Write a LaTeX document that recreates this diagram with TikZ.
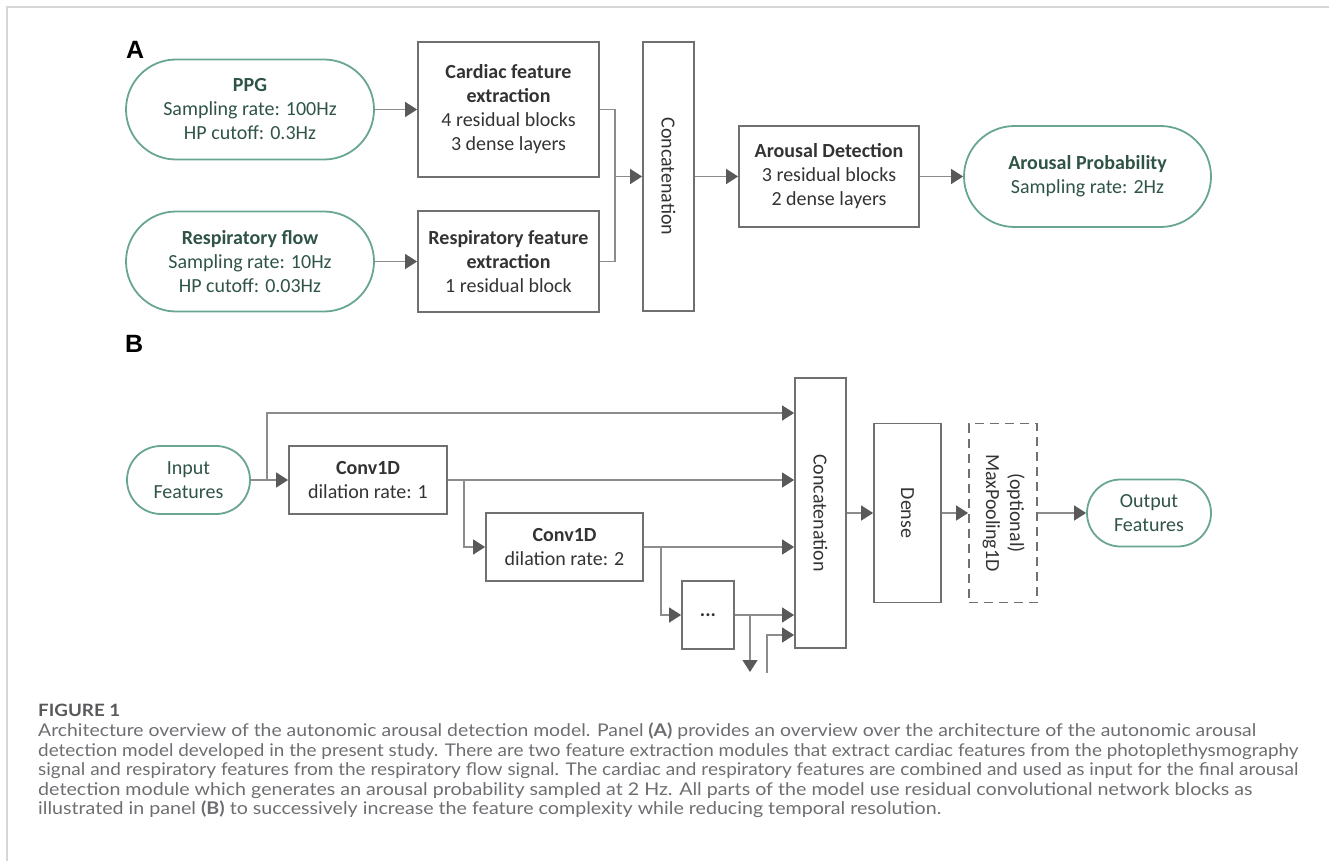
\documentclass[tikz,border=0pt]{standalone}
\usepackage{fontspec}
\usepackage{graphicx}
\setmainfont{Carlito}
\newfontfamily\capfont{Lato}
\newfontfamily\lblfont{Liberation Sans}
\usetikzlibrary{arrows.meta,shapes.misc}
\definecolor{boxgray}{HTML}{707070}
\definecolor{linegray}{HTML}{8C8C8C}
\definecolor{tipgray}{HTML}{595959}
\definecolor{pillgreen}{HTML}{68A593}
\definecolor{pilltext}{HTML}{2F5446}
\definecolor{boxtext}{HTML}{333333}
\definecolor{capgray}{HTML}{6D6E71}
\definecolor{figgray}{HTML}{58595B}
\definecolor{framegray}{HTML}{D6D6D6}
\tikzset{
  basetext/.style={font=\fontsize{20}{24}\selectfont, align=center, inner sep=0pt},
  boxnode/.style={basetext, rectangle, draw=boxgray, line width=1.8pt, text=boxtext},
  pill/.style={basetext, rounded rectangle, draw=pillgreen, line width=1.8pt, text=pilltext},
  conn/.style={draw=linegray, line width=1.3pt},
  arr/.style={conn, -{Triangle[length=12pt,width=15pt,color=tipgray]}},
  lbl/.style={font=\lblfont\bfseries\fontsize{25}{25}\selectfont, anchor=base west, inner sep=0pt},
  capline/.style={font=\capfont\fontsize{17.5}{20}\selectfont, text=capgray, anchor=base west, inner sep=0pt},
}
\begin{document}
\begin{tikzpicture}[x=1pt,y=-1pt]
\useasboundingbox (0,0) rectangle (1329,861);
\draw[framegray, line width=2pt] (7,861) -- (7,7) -- (1329,7);

% ---------- Panel A ----------
\node[lbl] (lblA) at (126,59) {A};
\node[pill, minimum width=248pt, minimum height=100pt] (ppg) at (250,109.5)
  {{\bfseries PPG}\\Sampling rate: 100Hz\\HP cutoff: 0.3Hz};
\node[pill, minimum width=248pt, minimum height=100pt] (resp) at (250,261.5)
  {{\bfseries Respiratory flow}\\Sampling rate: 10Hz\\HP cutoff: 0.03Hz};
\node[boxnode, minimum width=181pt, minimum height=135pt] (card) at (508.5,109.5)
  {{\bfseries Cardiac feature}\\{\bfseries extraction}\\4 residual blocks\\3 dense layers};
\node[boxnode, minimum width=181pt, minimum height=101pt] (respbox) at (508.5,261.5)
  {{\bfseries Respiratory feature}\\{\bfseries extraction}\\1 residual block};
\node[boxnode, minimum width=51pt, minimum height=269pt] (concatA) at (668.5,176.5)
  {\rotatebox{-90}{Concatenation}};
\node[boxnode, minimum width=180pt, minimum height=101pt] (arousal) at (829,176.5)
  {{\bfseries Arousal Detection}\\3 residual blocks\\2 dense layers};
\node[pill, minimum width=247pt, minimum height=101pt] (prob) at (1087.5,176.5)
  {{\bfseries Arousal Probability}\\Sampling rate: 2Hz};

\coordinate (jA) at (615,176.5);
\draw[arr] (ppg.east) -- (card.west);
\draw[arr] (resp.east) -- (respbox.west);
\draw[conn] (card.east) -| (jA) |- (respbox.east);
\draw[arr] (jA) -- (concatA.west);
\draw[arr] (concatA.east) -- (arousal.west);
\draw[arr] (arousal.east) -- (prob.west);

% ---------- Panel B ----------
\node[lbl] (lblB) at (125,352) {B};
\node[pill, minimum width=123pt, minimum height=68pt] (inp) at (188.5,480)
  {Input\\Features};
\node[boxnode, minimum width=158pt, minimum height=68pt] (conv1) at (368,480)
  {{\bfseries Conv1D}\\dilation rate: 1};
\node[boxnode, minimum width=157pt, minimum height=68pt] (conv2) at (564.5,547)
  {{\bfseries Conv1D}\\dilation rate: 2};
\node[boxnode, minimum width=52pt, minimum height=68pt] (dots) at (708,615)
  {\bfseries ...};
\node[boxnode, minimum width=51pt, minimum height=270pt] (concatB) at (820.5,513)
  {\rotatebox{-90}{Concatenation}};
\node[boxnode, minimum width=67pt, minimum height=179pt] (dense) at (907.5,513)
  {\rotatebox{-90}{Dense}};
\node[boxnode, dashed, dash pattern=on 9pt off 6pt, minimum width=68pt, minimum height=179pt] (maxp) at (1003,513)
  {\rotatebox{-90}{\begin{tabular}{@{}c@{}}(optional)\\MaxPooling1D\end{tabular}}};
\node[pill, minimum width=124pt, minimum height=67pt] (outp) at (1149,513)
  {Output\\Features};

\coordinate (b0) at (267,480);
\coordinate (y0) at (0,413);
\coordinate (b1) at (464,480);
\coordinate (b2) at (661,547);
\coordinate (b3) at (750,615);
\coordinate (b3e) at (750,672);
\coordinate (b4) at (767,673);
\coordinate (y4) at (0,635);

\draw[arr] (inp.east) -- (conv1.west);
\draw[arr] (b0) |- (concatB.west |- y0);
\draw[arr] (conv1.east) -- (conv1.east -| concatB.west);
\draw[arr] (b1) |- (conv2.west);
\draw[arr] (conv2.east) -- (conv2.east -| concatB.west);
\draw[arr] (b2) |- (dots.west);
\draw[arr] (dots.east) -- (dots.east -| concatB.west);
\draw[arr] (b3) -- (b3e);
\draw[arr] (b4) |- (concatB.west |- y4);
\draw[arr] (concatB.east) -- (dense.west);
\draw[arr] (dense.east) -- (maxp.west);
\draw[arr] (maxp.east) -- (outp.west);

% ---------- Caption ----------
\node[capline, text=figgray, font=\capfont\bfseries\fontsize{17}{20}\selectfont] (fig) at (38,716) {\resizebox{82pt}{\height}{FIGURE 1}};
\node[capline] (c1) at (38,736.5) {\resizebox{1218pt}{\height}{Architecture overview of the autonomic arousal detection model. Panel \textbf{(A)} provides an overview over the architecture of the autonomic arousal}};
\node[capline] (c2) at (38,756) {\resizebox{1260pt}{\height}{detection model developed in the present study. There are two feature extraction modules that extract cardiac features from the photoplethysmography}};
\node[capline] (c3) at (38,775.5) {\resizebox{1260pt}{\height}{signal and respiratory features from the respiratory flow signal. The cardiac and respiratory features are combined and used as input for the final arousal}};
\node[capline] (c4) at (38,795) {\resizebox{1214pt}{\height}{detection module which generates an arousal probability sampled at 2 Hz. All parts of the model use residual convolutional network blocks as}};
\node[capline] (c5) at (38,814.5) {\resizebox{903pt}{\height}{illustrated in panel \textbf{(B)} to successively increase the feature complexity while reducing temporal resolution.}};
\end{tikzpicture}
\end{document}
